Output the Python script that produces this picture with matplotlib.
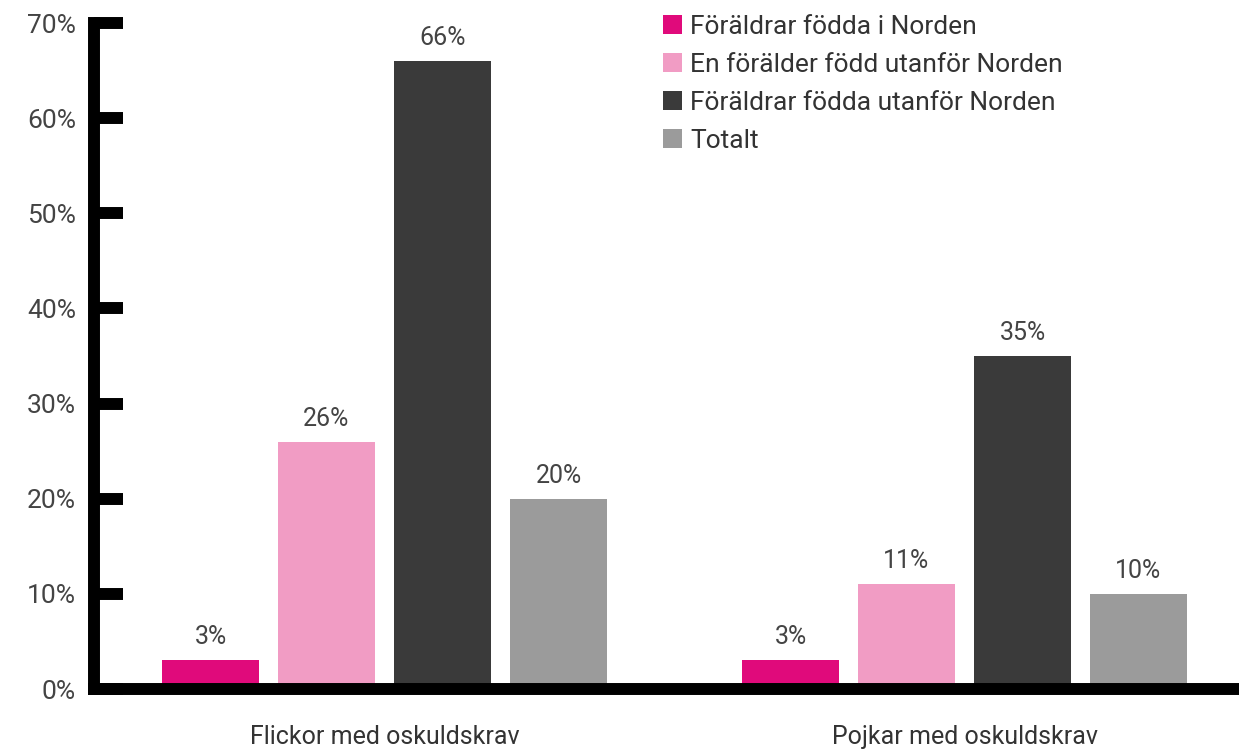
import numpy as np
import matplotlib.pyplot as plt

plt.rcParams['font.family'] = ['Roboto', 'DejaVu Sans']

groups = ["Flickor med oskuldskrav", "Pojkar med oskuldskrav"]
series = ["Föräldrar födda i Norden", "En förälder född utanför Norden",
          "Föräldrar födda utanför Norden", "Totalt"]
values = [
    [3, 3],
    [26, 11],
    [66, 35],
    [20, 10],
]
colors = ["#e00a7b", "#f19cc4", "#3a3a3a", "#9b9b9b"]
yticks = [0, 10, 20, 30, 40, 50, 60, 70]

fig = plt.figure(figsize=(12.39, 7.5), dpi=100)
ax = fig.add_axes([0.0759, 0.0813, 1 - 0.0759, 0.888])

centers = np.array([0, 5])
for i, (name, vals, c) in enumerate(zip(series, values, colors)):
    bars = ax.bar(centers + (i - 1.5), vals, width=0.84, color=c, label=name)
    ax.bar_label(bars, labels=[f"{v}%" for v in vals], padding=8,
                 fontsize=18, color="#444444")

ax.set_xlim(-2.504, 7.366)
ax.set_ylim(0, 70)
ax.set_yticks(yticks)
ax.set_yticklabels([f"{t}%" for t in yticks])
ax.set_xticks(centers)
ax.set_xticklabels(groups)

for s in ["top", "right"]:
    ax.spines[s].set_visible(False)
for s in ["left", "bottom"]:
    ax.spines[s].set_linewidth(8.6)
    ax.spines[s].set_color("black")
    ax.spines[s].set_capstyle("projecting")

ax.tick_params(axis="y", direction="in", length=21, width=8.6, pad=13,
               labelsize=19, labelcolor="#444444")
ax.tick_params(axis="x", length=0, pad=26, labelsize=18, labelcolor="#333333")

ax.legend(loc="upper left", bbox_to_anchor=(663 / 1239, 1 - 15 / 750),
          bbox_transform=fig.transFigure, frameon=False, borderpad=0,
          borderaxespad=0, fontsize=19, handlelength=0.73, handleheight=0.73,
          handletextpad=0.3, labelspacing=0.53, labelcolor="#333333")

plt.savefig("out.png", dpi=100)
